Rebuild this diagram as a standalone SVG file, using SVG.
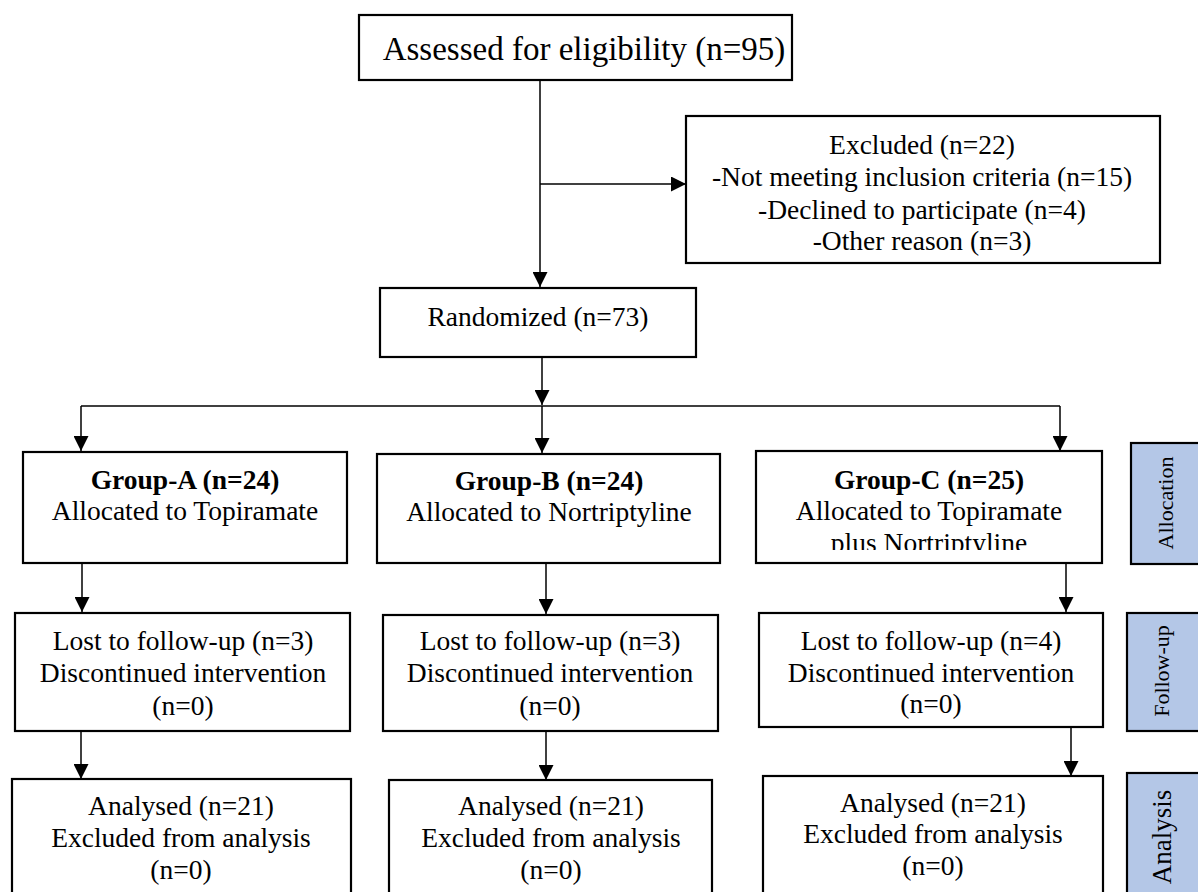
<svg xmlns="http://www.w3.org/2000/svg" width="1198" height="892" viewBox="0 0 1198 892">
<style>
.box{fill:#fff;stroke:#000;stroke-width:2.2}
.side{fill:#b4c7e7;stroke:#000;stroke-width:2.2}
.t{font-family:"Liberation Serif","Times New Roman",serif;font-size:27.5px;fill:#000;text-anchor:middle}
.b{font-weight:bold}
.st{font-family:"Liberation Serif","Times New Roman",serif;font-size:22px;fill:#000;text-anchor:middle}
.c{fill:none;stroke:#000;stroke-width:1.5}
</style>
<defs>
<marker id="ah" markerUnits="userSpaceOnUse" markerWidth="15" markerHeight="15" refX="15" refY="7.5" orient="auto">
<path d="M0,0 L15,7.5 L0,15 z" fill="#000"/>
</marker>
<clipPath id="clipC"><rect x="756" y="451" width="346" height="99"/></clipPath>
</defs>
<g id="connectors">
<path class="c" d="M540,80 V287" marker-end="url(#ah)"/>
<path class="c" d="M540,184 H686" marker-end="url(#ah)"/>
<path class="c" d="M542,357 V405" marker-end="url(#ah)"/>
<path class="c" d="M81,406 H1060"/>
<path class="c" d="M81,406 V451" marker-end="url(#ah)"/>
<path class="c" d="M542,406 V453" marker-end="url(#ah)"/>
<path class="c" d="M1060,406 V451" marker-end="url(#ah)"/>
<path class="c" d="M82,563 V612" marker-end="url(#ah)"/>
<path class="c" d="M546,563 V614" marker-end="url(#ah)"/>
<path class="c" d="M1066,563 V612" marker-end="url(#ah)"/>
<path class="c" d="M81,731 V779" marker-end="url(#ah)"/>
<path class="c" d="M546,731 V780" marker-end="url(#ah)"/>
<path class="c" d="M1071,727 V776" marker-end="url(#ah)"/>
</g>
<g id="assessed">
<rect class="box" x="359" y="15" width="433" height="65"/>
<text class="t" x="584" y="60" style="font-size:33px">Assessed for eligibility (n=95)</text>
</g>
<g id="excluded">
<rect class="box" x="686" y="116" width="474" height="147"/>
<text class="t" x="922" y="154">Excluded (n=22)</text>
<text class="t" x="922" y="186">-Not meeting inclusion criteria (n=15)</text>
<text class="t" x="922" y="219">-Declined to participate (n=4)</text>
<text class="t" x="922" y="250">-Other reason (n=3)</text>
</g>
<g id="randomized">
<rect class="box" x="380" y="288" width="316" height="69"/>
<text class="t" x="538" y="326">Randomized (n=73)</text>
</g>
<g id="groupA">
<rect class="box" x="23" y="452" width="324" height="111"/>
<text class="t b" x="185" y="489">Group-A (n=24)</text>
<text class="t" x="185" y="520">Allocated to Topiramate</text>
</g>
<g id="groupB">
<rect class="box" x="377" y="454" width="343" height="109"/>
<text class="t b" x="549" y="490">Group-B (n=24)</text>
<text class="t" x="549" y="521">Allocated to Nortriptyline</text>
</g>
<g id="groupC">
<rect class="box" x="756" y="451" width="346" height="112"/>
<g clip-path="url(#clipC)">
<text class="t b" x="929" y="489">Group-C (n=25)</text>
<text class="t" x="929" y="520">Allocated to Topiramate</text>
<text class="t" x="929" y="552">plus Nortriptyline</text>
</g>
</g>
<g id="followA">
<rect class="box" x="15" y="613" width="335" height="118"/>
<text class="t" x="183" y="650">Lost to follow-up (n=3)</text>
<text class="t" x="183" y="682">Discontinued intervention</text>
<text class="t" x="183" y="715">(n=0)</text>
</g>
<g id="followB">
<rect class="box" x="383" y="615" width="335" height="116"/>
<text class="t" x="550" y="650">Lost to follow-up (n=3)</text>
<text class="t" x="550" y="682">Discontinued intervention</text>
<text class="t" x="550" y="715">(n=0)</text>
</g>
<g id="followC">
<rect class="box" x="759" y="613" width="344" height="114"/>
<text class="t" x="931" y="650">Lost to follow-up (n=4)</text>
<text class="t" x="931" y="682">Discontinued intervention</text>
<text class="t" x="931" y="713">(n=0)</text>
</g>
<g id="analysisA">
<rect class="box" x="12" y="779" width="339" height="130"/>
<text class="t" x="181" y="815">Analysed (n=21)</text>
<text class="t" x="181" y="847">Excluded from analysis</text>
<text class="t" x="181" y="879">(n=0)</text>
</g>
<g id="analysisB">
<rect class="box" x="389" y="780" width="323" height="130"/>
<text class="t" x="551" y="815">Analysed (n=21)</text>
<text class="t" x="551" y="847">Excluded from analysis</text>
<text class="t" x="551" y="879">(n=0)</text>
</g>
<g id="analysisC">
<rect class="box" x="763" y="776" width="340" height="130"/>
<text class="t" x="933" y="812">Analysed (n=21)</text>
<text class="t" x="933" y="843">Excluded from analysis</text>
<text class="t" x="933" y="875">(n=0)</text>
</g>
<g id="label-allocation">
<rect class="side" x="1131" y="443" width="80" height="121"/>
<text class="st" transform="translate(1173,503) rotate(-90)">Allocation</text>
</g>
<g id="label-followup">
<rect class="side" x="1127" y="613" width="84" height="118"/>
<text class="st" transform="translate(1169,671) rotate(-90)">Follow-up</text>
</g>
<g id="label-analysis">
<rect class="side" x="1127" y="773" width="84" height="130"/>
<text class="st" transform="translate(1171,837) rotate(-90)" style="font-size:27px">Analysis</text>
</g>
</svg>
